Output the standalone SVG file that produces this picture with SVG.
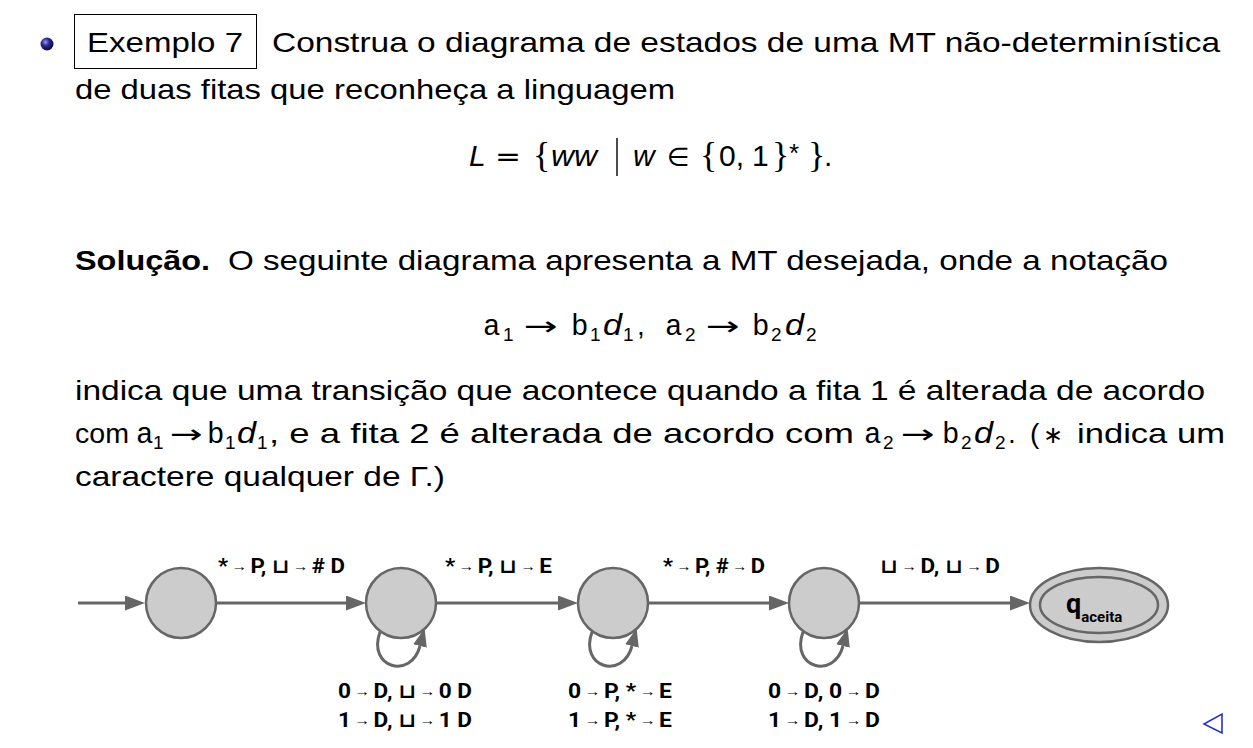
<svg xmlns="http://www.w3.org/2000/svg" width="1253" height="748" viewBox="0 0 1253 748">
<defs>
<radialGradient id="ball" cx="0.38" cy="0.35" r="0.65">
<stop offset="0" stop-color="#9a9ae8"/>
<stop offset="0.45" stop-color="#2a2a90"/>
<stop offset="1" stop-color="#0a0a45"/>
</radialGradient>
<marker id="ah" viewBox="0 0 20 15" refX="0" refY="7.5" markerWidth="20" markerHeight="15" markerUnits="userSpaceOnUse" orient="auto">
<path d="M0,0 L20,7.5 L0,15 z" fill="#666"/>
</marker>
<marker id="ahs" viewBox="0 0 18 14" refX="0" refY="7" markerWidth="18" markerHeight="14" markerUnits="userSpaceOnUse" orient="auto">
<path d="M0,0 L18,7 L0,14 z" fill="#666"/>
</marker>
</defs>
<style>
.t{font-family:"Liberation Sans",Arial,sans-serif;font-size:28px;fill:#000}
.b{font-weight:bold}
.it{font-family:"Liberation Sans",Arial,sans-serif;font-style:italic;font-size:30px}
.mono{font-family:"Liberation Mono","Courier New",monospace;font-size:29px}
.sub{font-family:"Liberation Sans",Arial,sans-serif;font-size:19px}
.sym{font-family:"DejaVu Sans",sans-serif;font-size:26px}
.br{font-family:"Liberation Serif",serif;font-size:36px}
.node{fill:#cccccc;stroke:#666;stroke-width:2.5}
.edge{fill:none;stroke:#666;stroke-width:3}
.lbl{font-family:Roboto,"Liberation Sans","DejaVu Sans",sans-serif;font-weight:bold;font-size:20px;fill:#000}
.ar{font-weight:normal;font-size:14px}
</style>
<rect width="1253" height="748" fill="#fff"/>

<!-- header -->
<circle cx="47" cy="44" r="6.5" fill="url(#ball)"/>
<rect x="74.5" y="14.5" width="182" height="54" fill="none" stroke="#000" stroke-width="1"/>
<text class="t" x="87" y="52" textLength="156" lengthAdjust="spacingAndGlyphs">Exemplo 7</text>
<text class="t" x="272" y="52" textLength="948" lengthAdjust="spacingAndGlyphs">Construa o diagrama de estados de uma MT não-determinística</text>
<text class="t" x="75" y="99" textLength="600" lengthAdjust="spacingAndGlyphs">de duas fitas que reconheça a linguagem</text>

<!-- L = {ww | w in {0,1}*}. -->
<g class="t">
<text class="it" x="469" y="166">L</text>
<text class="sym" x="495" y="166" textLength="26" lengthAdjust="spacingAndGlyphs">=</text>
<text class="br" x="533" y="167">{</text>
<text class="it" x="551" y="166" textLength="46" lengthAdjust="spacingAndGlyphs">ww</text>
<line x1="617" y1="138" x2="617" y2="176" stroke="#000" stroke-width="1.4"/>
<text class="it" x="633" y="166">w</text>
<text class="sym" x="667" y="166">∈</text>
<text class="br" x="700" y="167">{</text>
<text class="t" x="719" y="166" style="font-size:30px">0,</text>
<text class="t" x="752" y="166" style="font-size:30px">1</text>
<text class="br" x="772" y="167">}</text>
<text class="t" x="789" y="162" style="font-size:26px">*</text>
<text class="br" x="808" y="167">}</text>
<text class="t" x="824" y="166" style="font-size:30px">.</text>
</g>

<text class="t" x="75" y="270"><tspan class="b" textLength="135" lengthAdjust="spacingAndGlyphs">Solução.</tspan></text>
<text class="t" x="228" y="270" textLength="940" lengthAdjust="spacingAndGlyphs">O seguinte diagrama apresenta a MT desejada, onde a notação</text>

<!-- a1 -> b1 d1, a2 -> b2 d2 -->
<g class="t">
<text class="mono" x="483" y="335">a</text>
<text class="sub" x="503" y="341">1</text>
<text class="sym" x="524" y="335" textLength="34" lengthAdjust="spacingAndGlyphs">→</text>
<text class="mono" x="571" y="335">b</text>
<text class="sub" x="590" y="341">1</text>
<text class="it" x="603" y="335" textLength="19" lengthAdjust="spacingAndGlyphs">d</text>
<text class="sub" x="623" y="341">1</text>
<text class="t" x="637" y="335">,</text>
<text class="mono" x="665" y="335">a</text>
<text class="sub" x="685" y="341">2</text>
<text class="sym" x="706" y="335" textLength="34" lengthAdjust="spacingAndGlyphs">→</text>
<text class="mono" x="752" y="335">b</text>
<text class="sub" x="771" y="341">2</text>
<text class="it" x="785" y="335" textLength="19" lengthAdjust="spacingAndGlyphs">d</text>
<text class="sub" x="806" y="341">2</text>
</g>

<text class="t" x="75" y="400" textLength="1130" lengthAdjust="spacingAndGlyphs">indica que uma transição que acontece quando a fita 1 é alterada de acordo</text>

<g class="t">
<text class="t" x="75" y="443" textLength="54" lengthAdjust="spacingAndGlyphs">com</text>
<text class="mono" x="136" y="443">a</text>
<text class="sub" x="153" y="449">1</text>
<text class="sym" x="170" y="443" textLength="33" lengthAdjust="spacingAndGlyphs">→</text>
<text class="mono" x="207" y="443">b</text>
<text class="sub" x="225" y="449">1</text>
<text class="it" x="237" y="443" textLength="19" lengthAdjust="spacingAndGlyphs">d</text>
<text class="sub" x="257" y="449">1</text>
<text class="t" x="269" y="443" textLength="585" lengthAdjust="spacingAndGlyphs">, e a fita 2 é alterada de acordo com</text>
<text class="mono" x="864" y="443">a</text>
<text class="sub" x="883" y="449">2</text>
<text class="sym" x="901" y="443" textLength="34" lengthAdjust="spacingAndGlyphs">→</text>
<text class="mono" x="942" y="443">b</text>
<text class="sub" x="961" y="449">2</text>
<text class="it" x="974" y="443" textLength="19" lengthAdjust="spacingAndGlyphs">d</text>
<text class="sub" x="995" y="449">2</text>
<text class="t" x="1008" y="443">.</text>
<text class="t" x="1030" y="443">(</text>
<text class="sym" x="1043" y="443" style="font-size:24px">∗</text>
<text class="t" x="1077" y="443" textLength="148" lengthAdjust="spacingAndGlyphs">indica um</text>
</g>
<text class="t" x="75" y="486" textLength="370" lengthAdjust="spacingAndGlyphs">caractere qualquer de Γ.)</text>

<!-- connectors -->
<g id="connectors">
<line class="edge" x1="78" y1="603" x2="125" y2="603" marker-end="url(#ah)"/>
<line class="edge" x1="217" y1="603" x2="346" y2="603" marker-end="url(#ah)"/>
<line class="edge" x1="437" y1="603" x2="558" y2="603" marker-end="url(#ah)"/>
<line class="edge" x1="649" y1="603" x2="769" y2="603" marker-end="url(#ah)"/>
<line class="edge" x1="860" y1="603" x2="1010" y2="603" marker-end="url(#ah)"/>
<path class="edge" d="M380,632 C367,668 411,680 420,646" marker-end="url(#ahs)"/>
<path class="edge" d="M592,632 C579,668 623,680 632,646" marker-end="url(#ahs)"/>
<path class="edge" d="M803,632 C790,668 834,680 843,646" marker-end="url(#ahs)"/>
</g>

<!-- edge labels -->
<g id="labels">
<text class="lbl" x="218" y="573" textLength="127" lengthAdjust="spacingAndGlyphs">*<tspan class="ar" dx="3" dy="-2">→</tspan><tspan dx="3" dy="2">P, ⊔</tspan><tspan class="ar" dx="3" dy="-2">→</tspan><tspan dx="3" dy="2"># D</tspan></text>
<text class="lbl" x="445" y="573" textLength="107" lengthAdjust="spacingAndGlyphs">*<tspan class="ar" dx="3" dy="-2">→</tspan><tspan dx="3" dy="2">P, ⊔</tspan><tspan class="ar" dx="3" dy="-2">→</tspan><tspan dx="3" dy="2">E</tspan></text>
<text class="lbl" x="663" y="573" textLength="102" lengthAdjust="spacingAndGlyphs">*<tspan class="ar" dx="3" dy="-2">→</tspan><tspan dx="3" dy="2">P, #</tspan><tspan class="ar" dx="3" dy="-2">→</tspan><tspan dx="3" dy="2">D</tspan></text>
<text class="lbl" x="880" y="573" textLength="120" lengthAdjust="spacingAndGlyphs">⊔<tspan class="ar" dx="3" dy="-2">→</tspan><tspan dx="3" dy="2">D, ⊔</tspan><tspan class="ar" dx="3" dy="-2">→</tspan><tspan dx="3" dy="2">D</tspan></text>

<text class="lbl" x="338" y="698" textLength="134" lengthAdjust="spacingAndGlyphs">0<tspan class="ar" dx="3" dy="-2">→</tspan><tspan dx="3" dy="2">D, ⊔</tspan><tspan class="ar" dx="3" dy="-2">→</tspan><tspan dx="3" dy="2">0 D</tspan></text>
<text class="lbl" x="338" y="727" textLength="134" lengthAdjust="spacingAndGlyphs">1<tspan class="ar" dx="3" dy="-2">→</tspan><tspan dx="3" dy="2">D, ⊔</tspan><tspan class="ar" dx="3" dy="-2">→</tspan><tspan dx="3" dy="2">1 D</tspan></text>
<text class="lbl" x="568" y="698" textLength="104" lengthAdjust="spacingAndGlyphs">0<tspan class="ar" dx="3" dy="-2">→</tspan><tspan dx="3" dy="2">P, *</tspan><tspan class="ar" dx="3" dy="-2">→</tspan><tspan dx="3" dy="2">E</tspan></text>
<text class="lbl" x="568" y="727" textLength="104" lengthAdjust="spacingAndGlyphs">1<tspan class="ar" dx="3" dy="-2">→</tspan><tspan dx="3" dy="2">P, *</tspan><tspan class="ar" dx="3" dy="-2">→</tspan><tspan dx="3" dy="2">E</tspan></text>
<text class="lbl" x="768" y="698" textLength="112" lengthAdjust="spacingAndGlyphs">0<tspan class="ar" dx="3" dy="-2">→</tspan><tspan dx="3" dy="2">D, 0</tspan><tspan class="ar" dx="3" dy="-2">→</tspan><tspan dx="3" dy="2">D</tspan></text>
<text class="lbl" x="768" y="727" textLength="112" lengthAdjust="spacingAndGlyphs">1<tspan class="ar" dx="3" dy="-2">→</tspan><tspan dx="3" dy="2">D, 1</tspan><tspan class="ar" dx="3" dy="-2">→</tspan><tspan dx="3" dy="2">D</tspan></text>
</g>

<!-- nodes -->
<g id="q0"><circle class="node" cx="181" cy="603" r="35"/></g>
<g id="q1"><circle class="node" cx="401" cy="603" r="35"/></g>
<g id="q2"><circle class="node" cx="613" cy="603" r="35"/></g>
<g id="q3"><circle class="node" cx="824" cy="603" r="35"/></g>
<g id="qaceita">
<ellipse class="node" cx="1099" cy="605" rx="69" ry="37"/>
<ellipse cx="1099" cy="605" rx="59" ry="28" fill="none" stroke="#666" stroke-width="2.5"/>
<text class="lbl" x="1066" y="613" style="font-size:27px">q<tspan style="font-size:15px" dy="9">aceita</tspan></text>
</g>

<!-- nav triangle -->
<path d="M1204,724 L1222,714 L1222,733 z" fill="none" stroke="#2233cc" stroke-width="1.6"/>
</svg>
